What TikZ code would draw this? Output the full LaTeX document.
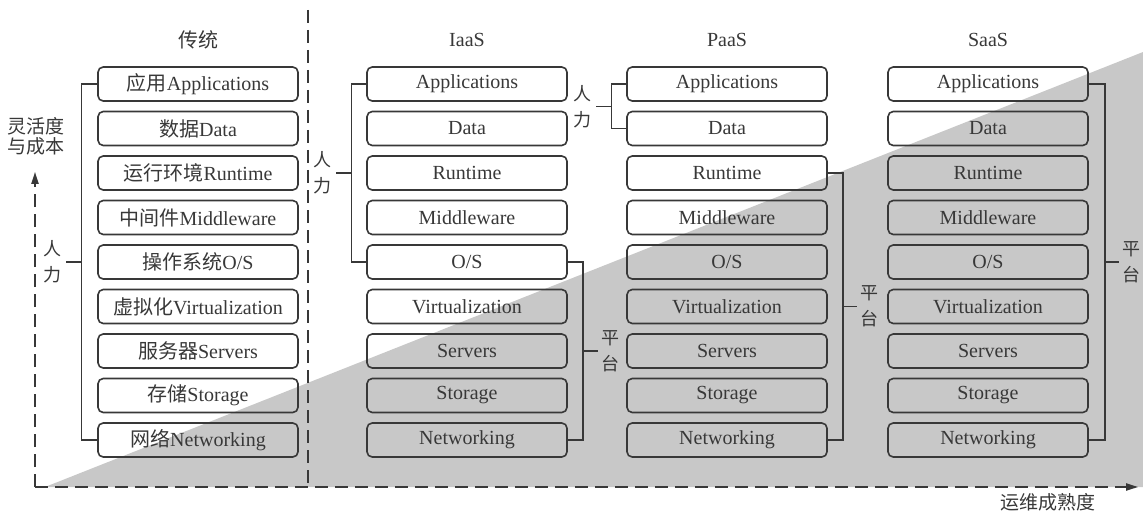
\documentclass[tikz,border=0pt]{standalone}
\usepackage{fontspec}
\setmainfont{Liberation Serif}
\newfontfamily\cjk{Noto Sans CJK SC}
\usetikzlibrary{arrows.meta,calc}
\definecolor{ink}{HTML}{383838}
\definecolor{wedgegray}{HTML}{C8C8C8}
\newcommand{\zh}[1]{{\cjk #1}}
\begin{document}
\begin{tikzpicture}[x=0.5pt,y=-0.5pt,
  layerbox/.style={draw=ink, line width=0.8pt, rounded corners=2.6pt,
    minimum width=100pt, minimum height=17pt, inner sep=0pt, text=ink,
    font=\fontsize{10}{12}\selectfont},
  headtext/.style={text=ink, font=\fontsize{10}{12}\selectfont},
  bracket/.style={draw=ink, line width=0.7pt},
  sidetext/.style={text=ink, align=center, inner sep=0pt,
    font=\cjk\fontsize{9}{13}\selectfont},
  axis/.style={draw=ink, line width=0.8pt, dash pattern=on 6.5pt off 3.5pt},
  tip/.style={-{Triangle[length=6pt,width=3.6pt]}}]
\useasboundingbox (0,0) rectangle (1143,513);

% shaded wedge behind the stacks
\fill[wedgegray] (45,487) -- (1143,487) -- (1143,52) -- cycle;

% column headers
\node[headtext] (th) at (198,40) {\zh{传统}};
\node[headtext] (ih) at (467,40) {IaaS};
\node[headtext] (ph) at (727,40) {PaaS};
\node[headtext] (sh) at (988,40) {SaaS};

% traditional stack
\foreach \lbl [count=\k] in {\zh{应用}Applications, \zh{数据}Data,
    \zh{运行环境}Runtime, \zh{中间件}Middleware, \zh{操作系统}O/S,
    \zh{虚拟化}Virtualization, \zh{服务器}Servers, \zh{存储}Storage,
    \zh{网络}Networking}
  \node[layerbox] (t\k) at (198,{84+44.5*(\k-1)}) {\lbl};

% IaaS, PaaS and SaaS stacks
\foreach \col/\cx in {i/467, p/727, s/988}
  \foreach \lbl [count=\k] in {Applications, Data, Runtime, Middleware,
      O/S, Virtualization, Servers, Storage, Networking}
    \node[layerbox] (\col\k) at (\cx,{84+44.5*(\k-1)}) {\lbl};

% brackets: traditional
\draw[bracket] (t1.west) -- ++(-16,0) coordinate (tb) |- (t9.west);
\draw[bracket] (tb |- t5.west) -- ++(-15,0) node[sidetext,left=2pt] (tl) {人\\力};

% brackets: IaaS
\draw[bracket] (i1.west) -- ++(-15,0) coordinate (ib) |- (i5.west);
\draw[bracket] (ib |- i3.west) -- ++(-15,0) node[sidetext,left=2pt] (il) {人\\力};
\draw[bracket] (i5.east) -- ++(15,0) coordinate (ir) |- (i9.east);
\draw[bracket] (ir |- i7.east) -- ++(15,0) node[sidetext,right=1.5pt] (irl) {平\\台};

% brackets: PaaS
\draw[bracket] (p1.west) -- ++(-15,0) coordinate (pb) |- (p2.west);
\coordinate (pm) at ($(p1.west)!0.5!(p2.west)$);
\draw[bracket] (pb |- pm) -- ++(-15,0) node[sidetext,left=2pt] (pl) {人\\力};
\draw[bracket] (p3.east) -- ++(15,0) coordinate (pr) |- (p9.east);
\coordinate (prm) at ($(p3.east)!0.5!(p9.east)$);
\draw[bracket] (pr |- prm) -- ++(14,0) node[sidetext,right=1.5pt] (prl) {平\\台};

% brackets: SaaS
\draw[bracket] (s1.east) -- ++(16,0) coordinate (sr) |- (s9.east);
\draw[bracket] (sr |- s5.east) -- ++(14,0) node[sidetext,right=1.5pt] (srl) {平\\台};

% separator between the traditional stack and the cloud models
\coordinate (septop) at (308,10);
\coordinate (sepbot) at (308,487);
\draw[axis] (septop) -- (sepbot);

% axes
\coordinate (origin) at (35,487);
\coordinate (yend) at (35,172);
\coordinate (xend) at (1138,487);
\draw[axis,tip] (origin) -- (yend);
\draw[axis,tip] (origin) -- (xend);
\node[sidetext, font=\cjk\fontsize{9.5}{10}\selectfont] (ylab) at (36,136) {灵活度\\与成本};
\node[sidetext, font=\cjk\fontsize{9.5}{12}\selectfont] (xlab) at (1048,502) {运维成熟度};
\end{tikzpicture}
\end{document}
